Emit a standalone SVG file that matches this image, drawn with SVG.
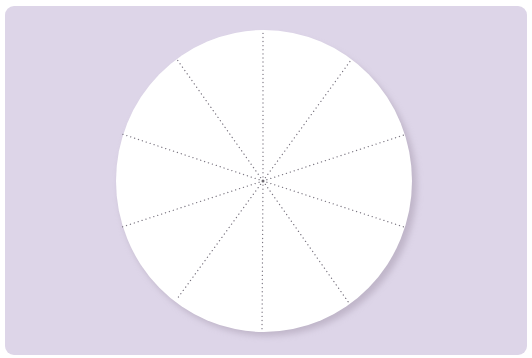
<svg xmlns="http://www.w3.org/2000/svg" width="532" height="358" viewBox="0 0 532 358">
  <defs>
    <filter id="shadow" x="-20%" y="-20%" width="140%" height="140%">
      <feGaussianBlur stdDeviation="3"/>
    </filter>
    <style>
      .spoke { stroke: #7a7580; stroke-width: 1.3; stroke-dasharray: 0.1 4; stroke-linecap: round; fill: none; }
    </style>
  </defs>
  <rect width="532" height="358" fill="#ffffff"/>
  <rect x="5" y="6" width="522" height="349" rx="9" ry="9" fill="#ddd5e8"/>
  <g id="plate">
    <ellipse cx="268" cy="186" rx="149" ry="150" fill="#a89cb0" opacity="0.55" filter="url(#shadow)"/>
    <ellipse cx="264" cy="181" rx="148" ry="151" fill="#ffffff"/>
  </g>
  <g id="spokes">
    <line class="spoke" x1="263" y1="181" x2="263" y2="31"/>
    <line class="spoke" x1="263" y1="181" x2="351" y2="60"/>
    <line class="spoke" x1="263" y1="181" x2="404" y2="135"/>
    <line class="spoke" x1="263" y1="181" x2="404" y2="227"/>
    <line class="spoke" x1="263" y1="181" x2="349" y2="303"/>
    <line class="spoke" x1="263" y1="181" x2="262" y2="330"/>
    <line class="spoke" x1="263" y1="181" x2="177" y2="299"/>
    <line class="spoke" x1="263" y1="181" x2="122" y2="227"/>
    <line class="spoke" x1="263" y1="181" x2="122" y2="134"/>
    <line class="spoke" x1="263" y1="181" x2="176" y2="58"/>
    <circle cx="263" cy="181" r="1.5" fill="#6e6a72"/>
  </g>
</svg>
